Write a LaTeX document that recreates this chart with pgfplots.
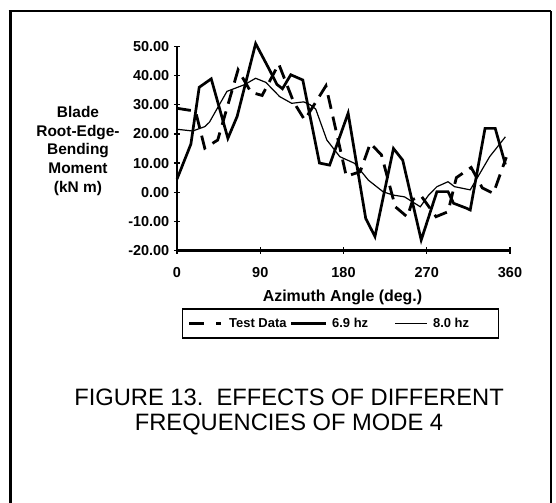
\documentclass[border=0pt]{standalone}
\usepackage{fontspec}
\setmainfont{Liberation Sans}
\usepackage{pgfplots}
\pgfplotsset{compat=1.18}

\pgfplotsset{
  legtest/.style={legend image code/.code={\path[draw=none,fill=none] (0,0) -- (39bp,0);
    \draw[##1, dash pattern=on 15bp off 12bp] (0,0) -- (32bp,0);}},
  legsix/.style={legend image code/.code={\path[draw=none,fill=none] (0,0) -- (40bp,0);
    \draw[##1] (0,0) -- (35bp,0);}},
  legeight/.style={legend image code/.code={\path[draw=none,fill=none] (0,0) -- (60.6bp,0);
    \draw[##1] (24bp,0) -- (56bp,0);}},
}

\pgfplotstableread{
x y
0 28.8
20 27.8
30 15.1
44 17.9
66 42.0
80 34.3
92 33.2
110 44.0
126 31.0
138 24.8
161 36.5
183 5.5
198 7.0
209 16.8
221 12.8
236 -5.0
249 -8.5
255 -2.5
264 -1.3
280 -8.4
293 -6.7
302 5.0
318 8.5
330 1.5
342 -0.4
356 12.0
}\testdata

\pgfplotstableread{
x y
0 4.5
15 16.5
24 36.0
37 38.9
55 18.5
65 26.0
85 51.0
100 42.0
108 37.0
114 35.5
123 40.3
136 38.5
154 10.0
165 9.3
185 27.1
204 -9.0
214 -15.2
234 15.0
244 11.0
264 -16.4
281 0.2
293 0.2
299 -3.8
313 -5.5
317 -6.1
333 21.9
344 21.9
355 9.5
}\sixnine

\pgfplotstableread{
x y
0 21.6
17 21.0
30 22.5
35 24.0
54 34.6
73 36.9
85 39.1
96 37.7
111 32.8
124 30.5
137 31.0
144 30.0
150 28.5
162 17.9
176 12.2
192 9.9
207 4.1
223 0.1
234 -1.0
246 -1.6
263 -5.0
272 -1.0
281 1.9
293 3.6
300 1.9
317 0.8
338 12.2
355 19.0
}\eightzero

\begin{document}
\begin{tikzpicture}[x=1bp,y=1bp]
\path[use as bounding box] (0,0) rectangle (556,503);
% frame of the figure
\draw[line width=3bp] (10,0) -- (10,491.5);
\draw[line width=2bp] (8.5,491.5) -- (551,491.5);
\draw[line width=1.5bp] (551,491.5) -- (551,0);

\begin{axis}[
  at={(177bp,252.5bp)}, anchor=south west,
  scale only axis, width=333bp, height=204bp,
  xmin=0, xmax=360, ymin=-20, ymax=50,
  axis lines=left,
  every outer x axis line/.append style={-, line width=2.2bp},
  every outer y axis line/.append style={-, line width=1.8bp},
  xtick={0,90,180,270,360},
  xticklabels={0,90,180,270,360},
  ytick={-20,-10,0,10,20,30,40,50},
  yticklabels={-20.00,-10.00,0.00,10.00,20.00,30.00,40.00,50.00},
  tick align=center, major tick length=6.5bp,
  tick style={line width=1.2bp, black},
  ticklabel style={font=\fontsize{14.5}{16}\selectfont\bfseries},
  xticklabel style={yshift=-10bp},
  yticklabel style={xshift=-1bp},
  clip=false,
  legend columns=3,
  legend style={at={(0.0141,-0.2843)}, anchor=north west,
    draw=black, line width=1.2bp, inner xsep=5.5bp, inner ysep=8bp,
    nodes={inner sep=1bp},
    font=\fontsize{13}{14}\selectfont\bfseries,
    /tikz/every even column/.append style={column sep=2.3bp}},
]
\addplot[black, line width=2.8bp, dash pattern=on 14bp off 8bp, legtest]
  table[x=x,y=y] {\testdata};
\addlegendentry{Test Data}
\addplot[black, line width=2.7bp, legsix]
  table[x=x,y=y] {\sixnine};
\addlegendentry{6.9 hz}
\addplot[black, line width=1.2bp, legeight]
  table[x=x,y=y] {\eightzero};
\addlegendentry{8.0 hz\hspace*{23bp}}
\end{axis}

\node[align=center, font=\fontsize{15.5}{19}\selectfont\bfseries]
  at (78,352) {Blade\\Root-Edge-\\Bending\\Moment\\(kN m)};
\node[font=\fontsize{16}{18}\selectfont\bfseries] at (342.5,206) {Azimuth Angle (deg.)};
\node[align=center, font=\fontsize{23.8}{25}\selectfont]
  at (289,91) {FIGURE 13.\ \ EFFECTS OF DIFFERENT\\FREQUENCIES OF MODE 4};
\end{tikzpicture}
\end{document}
